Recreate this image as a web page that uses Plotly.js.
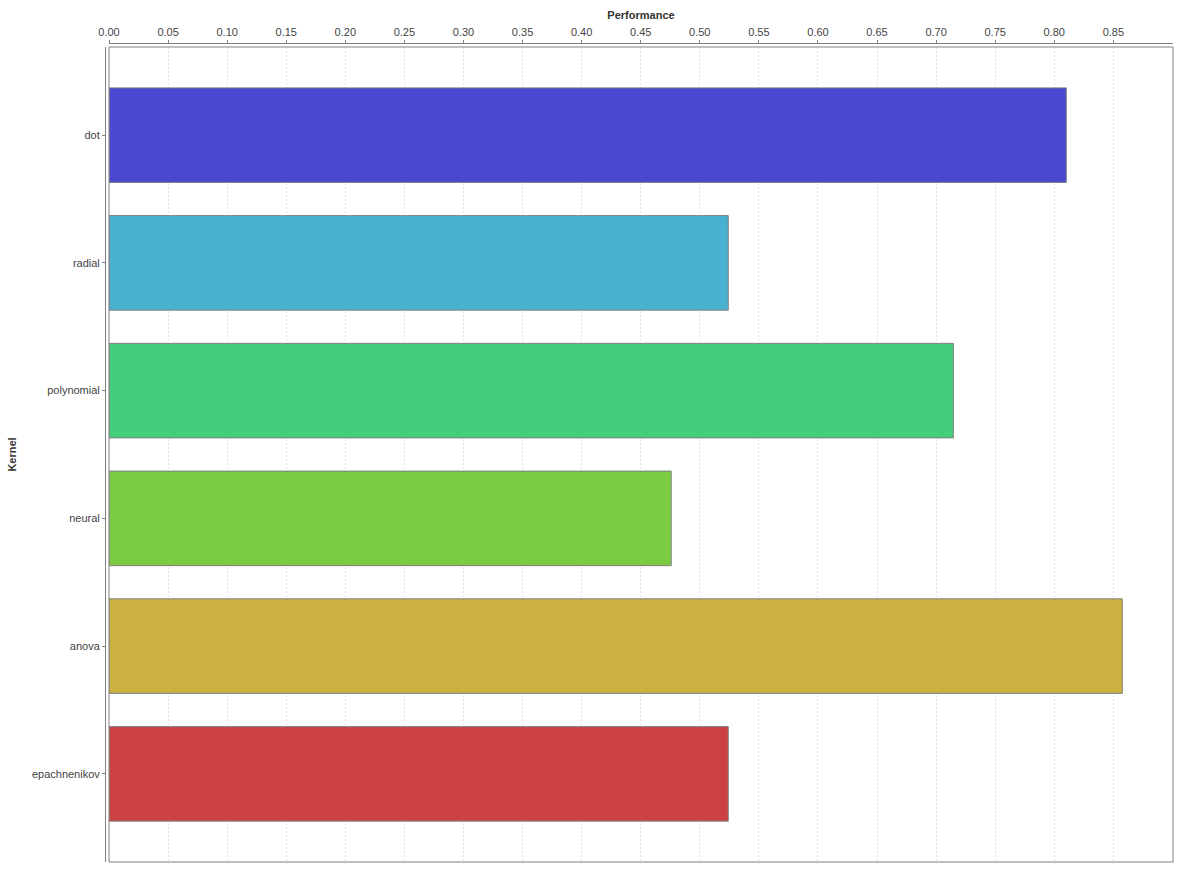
<!DOCTYPE html>
<html>
<head>
<meta charset="utf-8">
<script src="https://cdn.plot.ly/plotly-3.0.1.min.js"></script>
<style>html,body{margin:0;padding:0;background:#fff;}#chart{width:1182px;height:872px;}</style>
</head>
<body>
<div id="chart"></div>
<script>
const kernels = ["dot", "radial", "polynomial", "neural", "anova", "epachnenikov"];
const performance = [0.8102, 0.5241, 0.7146, 0.4758, 0.8576, 0.5241];
const barColors = ["#4848d0", "#47b1cf", "#44cd7a", "#7bcc43", "#cbb042", "#cc4242"];
const xTicks = [0.00,0.05,0.10,0.15,0.20,0.25,0.30,0.35,0.40,0.45,0.50,0.55,0.60,0.65,0.70,0.75,0.80,0.85];
const xTickText = xTicks.map(v => v.toFixed(2));

const font = "'Liberation Sans', Arial, sans-serif";

const trace = {
  type: "bar",
  orientation: "h",
  y: kernels,
  x: performance,
  width: 0.74,
  marker: {color: barColors, line: {color: "#808080", width: 1}},
  hoverinfo: "x+y"
};

const layout = {
  width: 1182, height: 872,
  margin: {l: 105, r: 9, t: 43, b: 10, pad: 0},
  paper_bgcolor: "#ffffff",
  plot_bgcolor: "#ffffff",
  showlegend: false,
  font: {family: font, size: 11, color: "#333333"},
  xaxis: {
    side: "top",
    anchor: "free",
    position: 1,
    domain: [0.00375, 1],
    range: [0, 0.9005],
    tickvals: xTicks,
    ticktext: xTickText,
    ticks: "outside",
    ticklen: 3,
    tickcolor: "#808080",
    showline: true,
    linecolor: "#808080",
    linewidth: 1,
    showgrid: true,
    gridcolor: "#e0e0e0",
    griddash: "2px,2px",
    gridwidth: 1,
    zeroline: false,
    tickfont: {family: font, size: 11, color: "#444444"},
    title: {text: "<b>Performance</b>", standoff: 2, font: {family: font, size: 11, color: "#333333"}}
  },
  yaxis: {
    anchor: "free",
    position: 0,
    domain: [0, 0.99512],
    type: "category",
    categoryorder: "array",
    categoryarray: kernels,
    autorange: false,
    range: [5.69, -0.69],
    ticks: "outside",
    ticklen: 3,
    tickcolor: "#808080",
    showline: true,
    linecolor: "#808080",
    linewidth: 1,
    showgrid: false,
    zeroline: false,
    tickfont: {family: font, size: 11, color: "#444444"},
    title: {text: "<b>Kernel</b>", standoff: 12, font: {family: font, size: 11, color: "#333333"}}
  },
  shapes: [{
    type: "rect", xref: "x domain", yref: "y domain",
    x0: 0, x1: 1, y0: 0, y1: 1,
    line: {color: "#808080", width: 1}, fillcolor: "rgba(0,0,0,0)", layer: "above"
  }]
};

Plotly.newPlot("chart", [trace], layout, {displayModeBar: false, staticPlot: true});
</script>
</body>
</html>
